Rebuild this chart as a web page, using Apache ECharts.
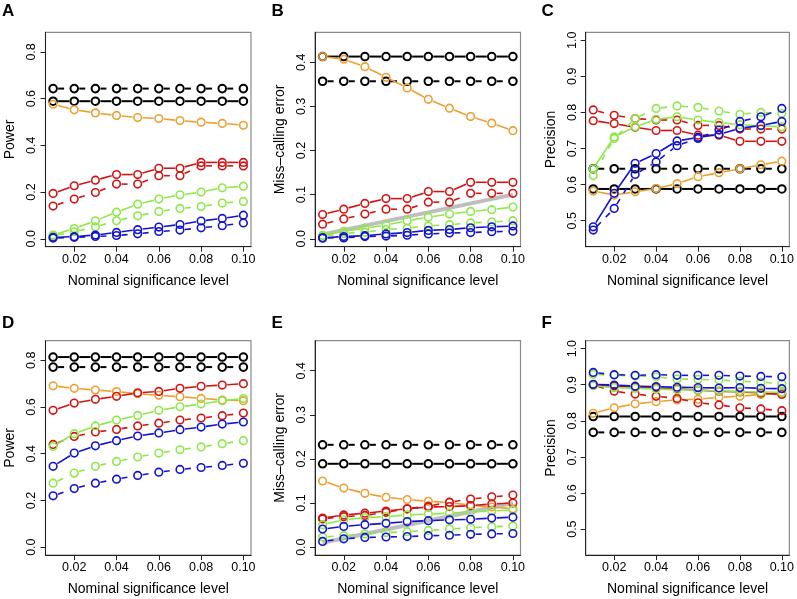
<!DOCTYPE html>
<html><head><meta charset="utf-8">
<script src="https://cdn.jsdelivr.net/npm/echarts@6/dist/echarts.min.js"></script>
<style>html,body{margin:0;padding:0;background:#fff}#c{width:797px;height:599px}</style>
</head><body><div id="c"></div>
<script>
// ---- data ----
const xs = [0.01,0.02,0.03,0.04,0.05,0.06,0.07,0.08,0.09,0.10];
const xTicks = [0.02,0.04,0.06,0.08,0.10];
const powerTicks = [0,0.2,0.4,0.6,0.8];
const errorTicks = [0,0.1,0.2,0.3,0.4];
const precTicks = [0.5,0.6,0.7,0.8,0.9,1.0];
const diagonal = [0.01,0.10];

// Panel A: power
const A_black_solid  = [0.589,0.589,0.589,0.589,0.589,0.589,0.589,0.589,0.589,0.589];
const A_black_dashed = [0.643,0.643,0.643,0.643,0.643,0.643,0.643,0.643,0.643,0.643];
const A_orange       = [0.576,0.552,0.539,0.528,0.519,0.515,0.506,0.499,0.494,0.486];
const A_red_solid    = [0.194,0.227,0.251,0.275,0.275,0.302,0.302,0.327,0.327,0.327];
const A_red_dashed   = [0.140,0.170,0.198,0.234,0.234,0.270,0.270,0.312,0.312,0.312];
const A_green_solid  = [0.016,0.044,0.077,0.114,0.148,0.170,0.188,0.200,0.218,0.225];
const A_green_dashed = [0.013,0.030,0.051,0.077,0.098,0.117,0.130,0.138,0.153,0.160];
const A_blue_solid   = [0.006,0.009,0.016,0.027,0.039,0.050,0.061,0.076,0.087,0.101];
const A_blue_dashed  = [0.003,0.006,0.010,0.014,0.021,0.031,0.037,0.047,0.056,0.068];

// Panel B: miss-calling error
const B_black_solid  = [0.413,0.413,0.413,0.413,0.413,0.413,0.413,0.413,0.413,0.413];
const B_black_dashed = [0.357,0.357,0.357,0.357,0.357,0.357,0.357,0.357,0.357,0.357];
const B_orange       = [0.413,0.407,0.390,0.366,0.342,0.316,0.296,0.277,0.262,0.245];
const B_red_solid    = [0.055,0.067,0.080,0.091,0.091,0.107,0.107,0.128,0.128,0.128];
const B_red_dashed   = [0.033,0.045,0.056,0.067,0.067,0.083,0.083,0.103,0.103,0.103];
const B_green_solid  = [0.008,0.017,0.024,0.031,0.041,0.049,0.056,0.062,0.066,0.072];
const B_green_dashed = [0.006,0.012,0.015,0.021,0.024,0.029,0.032,0.036,0.038,0.041];
const B_blue_solid   = [0.002,0.005,0.007,0.011,0.014,0.019,0.021,0.025,0.027,0.029];
const B_blue_dashed  = [0.002,0.002,0.005,0.006,0.008,0.011,0.013,0.014,0.016,0.017];

// Panel C: precision
const C_black_solid  = [0.588,0.588,0.588,0.588,0.588,0.588,0.588,0.588,0.588,0.588];
const C_black_dashed = [0.644,0.644,0.644,0.644,0.644,0.644,0.644,0.644,0.644,0.644];
const C_orange       = [0.582,0.571,0.580,0.589,0.603,0.622,0.633,0.644,0.655,0.665];
const C_red_solid    = [0.777,0.769,0.759,0.750,0.750,0.737,0.737,0.720,0.720,0.720];
const C_red_dashed   = [0.807,0.792,0.783,0.779,0.779,0.764,0.764,0.754,0.754,0.754];
const C_green_solid  = [0.644,0.732,0.760,0.781,0.788,0.779,0.772,0.766,0.763,0.760];
const C_green_dashed = [0.625,0.728,0.783,0.811,0.818,0.814,0.804,0.795,0.800,0.797];
const C_blue_solid   = [0.483,0.576,0.659,0.686,0.721,0.731,0.739,0.756,0.764,0.775];
const C_blue_dashed  = [0.474,0.534,0.628,0.663,0.708,0.728,0.751,0.775,0.788,0.811];

// Panel D: power
const D_black_solid  = [0.814,0.814,0.814,0.814,0.814,0.814,0.814,0.814,0.814,0.814];
const D_black_dashed = [0.771,0.771,0.771,0.771,0.771,0.771,0.771,0.771,0.771,0.771];
const D_orange       = [0.691,0.680,0.673,0.666,0.657,0.650,0.644,0.637,0.630,0.627];
const D_red_solid    = [0.586,0.617,0.633,0.646,0.661,0.667,0.680,0.689,0.694,0.700];
const D_red_dashed   = [0.440,0.474,0.493,0.504,0.519,0.531,0.544,0.553,0.563,0.574];
const D_green_solid  = [0.431,0.486,0.519,0.544,0.564,0.586,0.601,0.613,0.627,0.636];
const D_green_dashed = [0.274,0.317,0.346,0.367,0.386,0.403,0.417,0.429,0.443,0.456];
const D_blue_solid   = [0.346,0.403,0.434,0.456,0.476,0.489,0.503,0.514,0.527,0.536];
const D_blue_dashed  = [0.220,0.251,0.274,0.291,0.307,0.321,0.333,0.341,0.350,0.359];

// Panel E: miss-calling error
const E_black_solid  = [0.189,0.189,0.189,0.189,0.189,0.189,0.189,0.189,0.189,0.189];
const E_black_dashed = [0.232,0.232,0.232,0.232,0.232,0.232,0.232,0.232,0.232,0.232];
const E_orange       = [0.150,0.134,0.122,0.113,0.108,0.104,0.101,0.095,0.091,0.087];
const E_red_solid    = [0.066,0.073,0.077,0.082,0.087,0.091,0.092,0.094,0.098,0.100];
const E_red_dashed   = [0.064,0.069,0.072,0.079,0.087,0.093,0.102,0.109,0.114,0.118];
const E_green_solid  = [0.051,0.062,0.067,0.069,0.073,0.075,0.077,0.080,0.082,0.084];
const E_green_dashed = [0.023,0.026,0.030,0.033,0.035,0.038,0.041,0.044,0.046,0.048];
const E_blue_solid   = [0.041,0.047,0.051,0.054,0.058,0.060,0.062,0.063,0.066,0.068];
const E_blue_dashed  = [0.013,0.019,0.022,0.023,0.024,0.026,0.027,0.029,0.030,0.031];

// Panel F: precision
const F_black_solid  = [0.812,0.812,0.812,0.812,0.812,0.812,0.812,0.812,0.812,0.812];
const F_black_dashed = [0.768,0.768,0.768,0.768,0.768,0.768,0.768,0.768,0.768,0.768];
const F_orange       = [0.821,0.836,0.847,0.853,0.858,0.860,0.865,0.868,0.873,0.877];
const F_red_solid    = [0.899,0.896,0.893,0.892,0.888,0.885,0.882,0.880,0.877,0.873];
const F_red_dashed   = [0.899,0.882,0.874,0.868,0.862,0.850,0.844,0.836,0.833,0.828];
const F_green_solid  = [0.897,0.892,0.890,0.888,0.886,0.885,0.883,0.881,0.880,0.879];
const F_green_dashed = [0.929,0.926,0.924,0.922,0.916,0.915,0.913,0.910,0.907,0.903];
const F_blue_solid   = [0.901,0.899,0.896,0.895,0.893,0.892,0.891,0.892,0.890,0.889];
const F_blue_dashed  = [0.934,0.928,0.926,0.928,0.926,0.926,0.926,0.924,0.923,0.922];

// ---- styling / layout ----
const COL = {black:'#000000', orange:'#EBA033', red:'#CF1515', green:'#8EE84A', blue:'#1414CC'};
const FONT = 'Liberation Sans';
const lefts = [45.5, 315, 585.7];
const tops = [32.3, 340.7];
const GW = 205.5, GH = 214.4;

const panels = [
  {letter:'A', row:0, col:0, ymin:-0.034, ymax:0.884, ticks:powerTicks, name:'Power', diag:false,
   s:[A_black_solid,A_black_dashed,A_orange,A_red_solid,A_red_dashed,A_green_solid,A_green_dashed,A_blue_solid,A_blue_dashed]},
  {letter:'B', row:0, col:1, ymin:-0.018, ymax:0.468, ticks:errorTicks, name:'Miss\u2013calling error', diag:true,
   s:[B_black_solid,B_black_dashed,B_orange,B_red_solid,B_red_dashed,B_green_solid,B_green_dashed,B_blue_solid,B_blue_dashed]},
  {letter:'C', row:0, col:2, ymin:0.428, ymax:1.022, ticks:precTicks, name:'Precision', diag:false,
   s:[C_black_solid,C_black_dashed,C_orange,C_red_solid,C_red_dashed,C_green_solid,C_green_dashed,C_blue_solid,C_blue_dashed]},
  {letter:'D', row:1, col:0, ymin:-0.034, ymax:0.884, ticks:powerTicks, name:'Power', diag:false,
   s:[D_black_solid,D_black_dashed,D_orange,D_red_solid,D_red_dashed,D_green_solid,D_green_dashed,D_blue_solid,D_blue_dashed]},
  {letter:'E', row:1, col:1, ymin:-0.018, ymax:0.468, ticks:errorTicks, name:'Miss\u2013calling error', diag:true,
   s:[E_black_solid,E_black_dashed,E_orange,E_red_solid,E_red_dashed,E_green_solid,E_green_dashed,E_blue_solid,E_blue_dashed]},
  {letter:'F', row:1, col:2, ymin:0.428, ymax:1.022, ticks:precTicks, name:'Precision', diag:false,
   s:[F_black_solid,F_black_dashed,F_orange,F_red_solid,F_red_dashed,F_green_solid,F_green_dashed,F_blue_solid,F_blue_dashed]}
];
const styles = [
  {c:COL.black, d:false, w:2},
  {c:COL.black, d:true,  w:2},
  {c:COL.orange,d:false, w:1.6},
  {c:COL.red,   d:false, w:1.6},
  {c:COL.red,   d:true,  w:1.6},
  {c:COL.green, d:false, w:1.6},
  {c:COL.green, d:true,  w:1.6},
  {c:COL.blue,  d:false, w:1.6},
  {c:COL.blue,  d:true,  w:1.6}
];

const R = 3.8, GAP = 5;
function lineSeries(gi, ys, st) {
  return {
    type:'custom', xAxisIndex:gi, yAxisIndex:gi, clip:false,
    encode:{x:0, y:1},
    data: xs.map((x,i)=>[x, ys[i]]),
    renderItem: function(params, api){
      const i = params.dataIndex;
      const p = api.coord([api.value(0), api.value(1)]);
      const ch = [{type:'circle', shape:{cx:p[0], cy:p[1], r:R},
                   style:{fill:'none', stroke:st.c, lineWidth:st.w}}];
      if (i < xs.length-1) {
        const q = api.coord([xs[i+1], ys[i+1]]);
        const dx = q[0]-p[0], dy = q[1]-p[1];
        const L = Math.sqrt(dx*dx+dy*dy);
        if (L > 2*GAP) {
          const ux = dx/L, uy = dy/L;
          ch.push({type:'line', shape:{x1:p[0]+ux*GAP, y1:p[1]+uy*GAP, x2:q[0]-ux*GAP, y2:q[1]-uy*GAP},
                   style:{stroke:st.c, lineWidth:st.w, fill:null, lineDash: st.d ? [6,7] : null}});
        }
      }
      return {type:'group', children:ch};
    }
  };
}

const grid = [], xAxis = [], yAxis = [], series = [], graphic = [];
panels.forEach((p, gi) => {
  grid.push({left:lefts[p.col], top:tops[p.row], width:GW, height:GH, show:true,
             borderColor:'#8a8a8a', borderWidth:1.2, backgroundColor:'transparent'});
  xAxis.push({type:'value', gridIndex:gi, min:0.0064, max:0.1036,
    axisLine:{show:true, onZero:false, lineStyle:{color:'#222', width:1}},
    axisTick:{show:true, customValues:xTicks, length:5, lineStyle:{color:'#222', width:1}},
    axisLabel:{customValues:xTicks, formatter:v=>Number(v).toFixed(2), fontSize:12.5, color:'#000', margin:6, fontFamily:FONT},
    splitLine:{show:false},
    name:'Nominal significance level', nameLocation:'middle', nameGap:27,
    nameTextStyle:{fontSize:14, color:'#000', fontFamily:FONT}});
  yAxis.push({type:'value', gridIndex:gi, min:p.ymin, max:p.ymax,
    axisLine:{show:true, onZero:false, lineStyle:{color:'#222', width:1}},
    axisTick:{show:true, customValues:p.ticks, length:5, lineStyle:{color:'#222', width:1}},
    axisLabel:{customValues:p.ticks, formatter:v=>Number(v).toFixed(1), rotate:90, fontSize:12.5, color:'#000', margin:7, fontFamily:FONT},
    splitLine:{show:false},
    name:p.name, nameLocation:'middle', nameGap:28, nameRotate:90,
    nameTextStyle:{fontSize:14, color:'#000', fontFamily:FONT}});
  if (p.diag) {
    series.push({type:'line', xAxisIndex:gi, yAxisIndex:gi, symbol:'none', silent:true,
      data: diagonal.map(v=>[v,v]), lineStyle:{color:'#BEBEBE', width:4}, z:1});
  }
  p.s.forEach((ys, k) => series.push(lineSeries(gi, ys, styles[k])));
  graphic.push({type:'text', left:[2,271.5,541.5][p.col], top:[3,314.5][p.row],
    style:{text:p.letter, font:'bold 17px "Liberation Sans"', fill:'#000'}});
});

const chart = echarts.init(document.getElementById('c'), null, {renderer:'canvas'});
chart.setOption({animation:false, backgroundColor:'#fff', grid, xAxis, yAxis, series, graphic});
</script></body></html>
